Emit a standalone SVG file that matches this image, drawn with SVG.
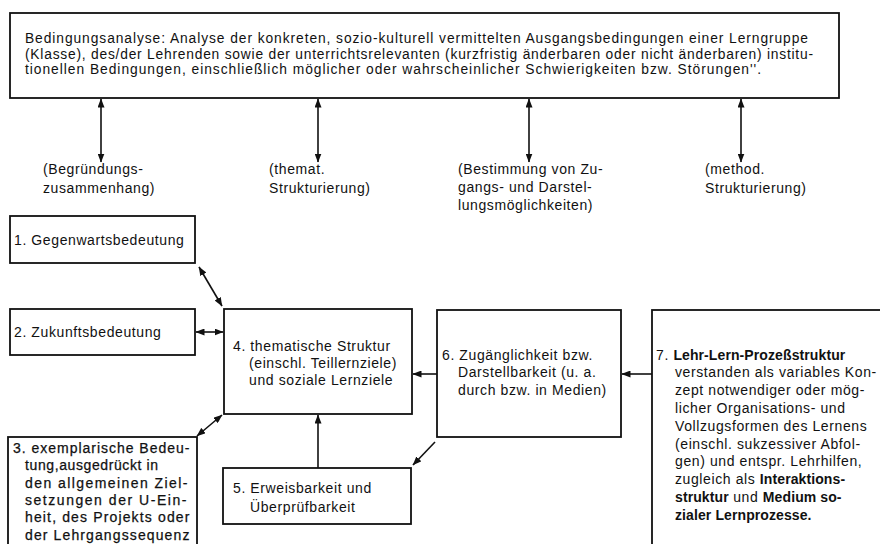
<svg xmlns="http://www.w3.org/2000/svg" width="880" height="544" viewBox="0 0 880 544">
<style>
.box{fill:#fff;stroke:#111;stroke-width:1.8}
.t{font-family:"Liberation Sans",Arial,sans-serif;font-size:14px;letter-spacing:0.6px;fill:#111}
.ts{font-family:"Liberation Sans",Arial,sans-serif;font-size:13.8px;fill:#111}
.b{font-weight:bold;letter-spacing:0.1px}
.heavy{stroke:#111;stroke-width:0.25}
.c{fill:none;stroke:#111;stroke-width:1.6}
</style>
<defs>
<marker id="ah" viewBox="0 0 9 7" refX="8.5" refY="3.5" markerWidth="9" markerHeight="7" markerUnits="userSpaceOnUse" orient="auto-start-reverse">
<path d="M0,0 L9,3.5 L0,7 z" fill="#111"/>
</marker>
</defs>
<rect width="880" height="544" fill="#fff"/>

<g id="n-top">
<rect class="box" x="10" y="13" width="829" height="85"/>
<text class="ts" x="25" y="43" textLength="783" lengthAdjust="spacing">Bedingungsanalyse: Analyse der konkreten, sozio-kulturell vermittelten Ausgangsbedingungen einer Lerngruppe</text>
<text class="ts" x="25" y="58.5" textLength="788" lengthAdjust="spacing">(Klasse), des/der Lehrenden sowie der unterrichtsrelevanten (kurzfristig änderbaren oder nicht änderbaren) institu-</text>
<text class="ts" x="25" y="74" textLength="736" lengthAdjust="spacing">tionellen Bedingungen, einschließlich möglicher oder wahrscheinlicher Schwierigkeiten bzw. Störungen''.</text>
</g>

<g id="n-1">
<rect class="box" x="10" y="216" width="185" height="47"/>
<text class="t" x="14" y="244.5">1. Gegenwartsbedeutung</text>
</g>

<g id="n-2">
<rect class="box" x="10" y="309" width="185" height="46"/>
<text class="t" x="14" y="336.5">2. Zukunftsbedeutung</text>
</g>

<g id="n-3">
<rect class="box" x="8" y="437" width="189" height="130"/>
<g class="t heavy">
<text x="13" y="452.5" textLength="177" lengthAdjust="spacing">3. exemplarische Bedeu-</text>
<text x="25" y="470">tung,ausgedrückt in</text>
<text x="25" y="487.5" textLength="163" lengthAdjust="spacing">den allgemeinen Ziel-</text>
<text x="25" y="504.5" textLength="162" lengthAdjust="spacing">setzungen der U-Ein-</text>
<text x="25" y="522" textLength="165" lengthAdjust="spacing">heit, des Projekts oder</text>
<text x="25" y="539.5" textLength="165" lengthAdjust="spacing">der Lehrgangssequenz</text>
</g>
</g>

<g id="n-4">
<rect class="box" x="224" y="309" width="188" height="105"/>
<text class="t" x="233" y="350.5">4. thematische Struktur</text>
<text class="t" x="249" y="367.5">(einschl. Teillernziele)</text>
<text class="t" x="249" y="384.5">und soziale Lernziele</text>
</g>

<g id="n-5">
<rect class="box" x="223" y="468" width="188" height="56"/>
<text class="t" x="233" y="492.5">5. Erweisbarkeit und</text>
<text class="t" x="250" y="511.5">Überprüfbarkeit</text>
</g>

<g id="n-6">
<rect class="box" x="437" y="310" width="184" height="127"/>
<text class="t" x="442" y="359.5">6. Zugänglichkeit bzw.</text>
<text class="t" x="458" y="377">Darstellbarkeit (u. a.</text>
<text class="t" x="458" y="394.5">durch bzw. in Medien)</text>
</g>

<g id="n-7">
<rect class="box" x="652" y="310" width="260" height="260"/>
<text class="t" x="656" y="359.5">7. <tspan class="b">Lehr-Lern-Prozeßstruktur</tspan></text>
<text class="t" x="675" y="377.3">verstanden als variables Kon-</text>
<text class="t" x="675" y="395.1">zept notwendiger oder mög-</text>
<text class="t" x="675" y="412.9">licher Organisations- und</text>
<text class="t" x="675" y="430.7">Vollzugsformen des Lernens</text>
<text class="t" x="675" y="448.5">(einschl. sukzessiver Abfol-</text>
<text class="t" x="675" y="466.3">gen) und entspr. Lehrhilfen,</text>
<text class="t" x="675" y="484.1">zugleich als <tspan class="b">Interaktions-</tspan></text>
<text class="t" x="675" y="501.9"><tspan class="b">struktur</tspan> und <tspan class="b">Medium so-</tspan></text>
<text class="t" x="675" y="519.7"><tspan class="b">zialer Lernprozesse.</tspan></text>
</g>

<g id="connectors">
<line class="c" x1="101" y1="99" x2="101" y2="162" marker-start="url(#ah)" marker-end="url(#ah)"/>
<line class="c" x1="318" y1="99" x2="318" y2="162" marker-start="url(#ah)" marker-end="url(#ah)"/>
<line class="c" x1="529" y1="99" x2="529" y2="162" marker-start="url(#ah)" marker-end="url(#ah)"/>
<line class="c" x1="741" y1="99" x2="741" y2="162" marker-start="url(#ah)" marker-end="url(#ah)"/>
<line class="c" x1="199" y1="267" x2="222" y2="306" marker-start="url(#ah)" marker-end="url(#ah)"/>
<line class="c" x1="196" y1="332" x2="223" y2="332" marker-start="url(#ah)" marker-end="url(#ah)"/>
<line class="c" x1="437" y1="374" x2="413" y2="374" marker-end="url(#ah)"/>
<line class="c" x1="652" y1="374" x2="622" y2="374" marker-end="url(#ah)"/>
<line class="c" x1="222" y1="415" x2="197" y2="436" marker-start="url(#ah)" marker-end="url(#ah)"/>
<line class="c" x1="318" y1="468" x2="318" y2="415" marker-end="url(#ah)"/>
<line class="c" x1="435" y1="442" x2="413" y2="465" marker-end="url(#ah)"/>
</g>

<g id="labels" class="t">
<text x="43" y="174">(Begründungs-</text>
<text x="43" y="193">zusammenhang)</text>
<text x="269" y="174">(themat.</text>
<text x="269" y="193">Strukturierung)</text>
<text x="458" y="174">(Bestimmung von Zu-</text>
<text x="458" y="192">gangs- und Darstel-</text>
<text x="458" y="210">lungsmöglichkeiten)</text>
<text x="705" y="174">(method.</text>
<text x="705" y="193">Strukturierung)</text>
</g>
</svg>
